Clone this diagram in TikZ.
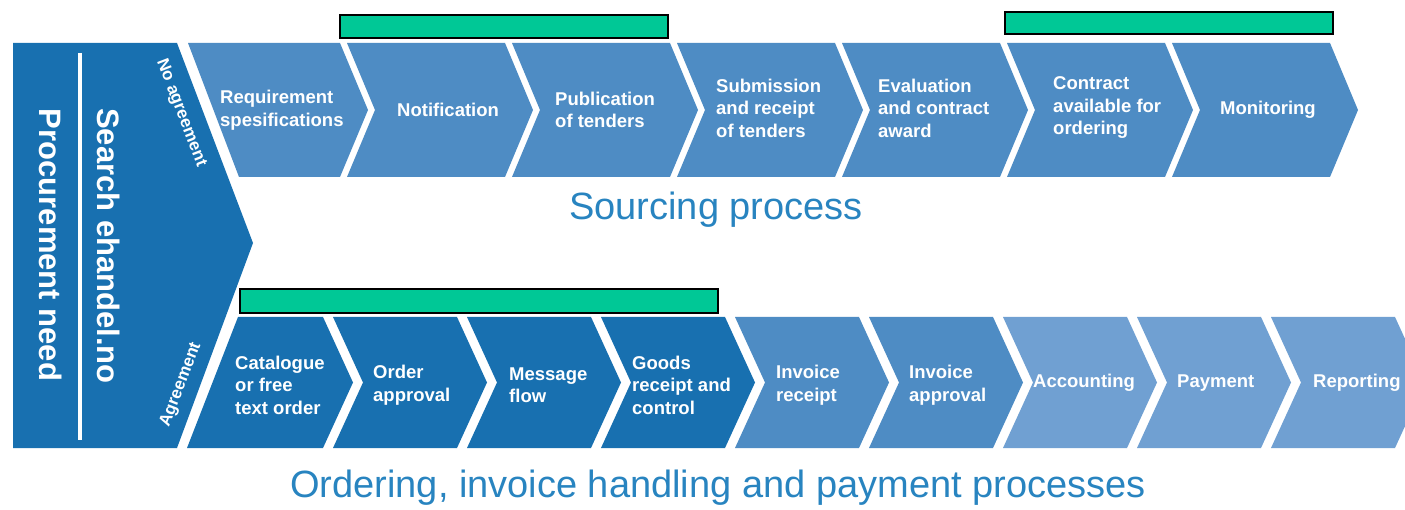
\documentclass[tikz,border=0pt]{standalone}
\usepackage{fontspec}
\newfontfamily\arial{Liberation Sans}
\definecolor{darkblue}{RGB}{24,112,176}
\definecolor{midblue}{RGB}{78,140,196}
\definecolor{lightblue}{RGB}{112,160,210}
\definecolor{headblue}{RGB}{40,132,192}
\definecolor{bargreen}{RGB}{0,200,150}
\tikzset{proc node/.style={text=white,font=\arial\bfseries\fontsize{18.5}{22.5}\selectfont,align=left,anchor=west,inner sep=0pt},
  side node/.style={text=white,font=\arial\bfseries\fontsize{31}{34}\selectfont,inner sep=0pt,rotate=-90},
  tag node/.style={text=white,font=\arial\bfseries\fontsize{17}{19}\selectfont,inner sep=0pt},
  head node/.style={text=headblue,font=\arial\fontsize{38}{44}\selectfont,anchor=base,inner sep=0pt},
  bar/.style={fill=bargreen,draw=black,line width=2.5pt},}

\begin{document}
\begin{tikzpicture}[x=1pt,y=-1pt]
      \clip (0,0) rectangle (1405,510);
      \fill[white] (0,0) rectangle (1405,510);

      % left block
      \fill[darkblue] (13,43) -- (177,43) -- (253,243) -- (177,448) -- (13,448) -- cycle;
      \draw[white,line width=4pt] (80,53) -- (80,440);
      \node[side node] (need) at (51,245) {Procurement need};
      \node[side node] (search) at (109,246) {Search ehandel.no};
      \node[tag node,rotate=-69] (noagr) at (181,113) {No agreement};
      \node[tag node,rotate=69] (agr) at (181,385) {Agreement};

      % sourcing row
      \fill[midblue] (188,43) -- (340,43) -- (368,110) -- (340,177) -- (239,177) -- cycle;
      \foreach \x in {347,512,677,842,1007,1172}
        \fill[midblue] (\x,43) -- ++(158,0) -- ++(28,67) -- ++(-28,67) -- ++(-158,0) -- ++(28,-67) -- cycle;

      % ordering row
      \fill[darkblue] (238,317) -- (323,317) -- (353,382.5) -- (323,448) -- (187,448) -- cycle;
      \foreach \x/\c in {333/darkblue,467/darkblue,601/darkblue,735/midblue,869/midblue,1003/lightblue,1137/lightblue,1271/lightblue}
        \fill[\c] (\x,317) -- ++(124,0) -- ++(30,65.5) -- ++(-30,65.5) -- ++(-124,0) -- ++(30,-65.5) -- cycle;

      \node[proc node] (req) at (220,110) {Requirement\\spesifications};
      \node[proc node] (notif) at (397,110) {Notification};
      \node[proc node] (pub) at (555,110) {Publication\\of tenders};
      \node[proc node] (subm) at (716,108) {Submission\\and receipt\\of tenders};
      \node[proc node] (eval) at (878,108) {Evaluation\\and contract\\award};
      \node[proc node] (contr) at (1053,108) {Contract\\available for\\ordering};
      \node[proc node] (mon) at (1220,110) {Monitoring};

      \node[proc node] (cat) at (235,385) {Catalogue\\or free\\text order};
      \node[proc node] (ordap) at (373,385) {Order\\approval};
      \node[proc node] (msg) at (509,385) {Message\\flow};
      \node[proc node] (goods) at (632,385) {Goods\\receipt and\\control};
      \node[proc node] (invr) at (776,385) {Invoice\\receipt};
      \node[proc node] (inva) at (909,385) {Invoice\\approval};
      \node[proc node] (acc) at (1033,383) {Accounting};
      \node[proc node] (pay) at (1177,383) {Payment};
      \node[proc node] (rep) at (1313,383) {Reporting};

      \node[head node] (src) at (716,220) {Sourcing process};
      \node[head node] (ord) at (718,497) {Ordering, invoice handling and payment processes};

      % green bars
      \draw[bar] (340,15) rectangle (668,38);
      \draw[bar] (1005,12) rectangle (1333,34);
      \draw[bar] (240,289) rectangle (718,313);

    \end{tikzpicture}
\end{document}
